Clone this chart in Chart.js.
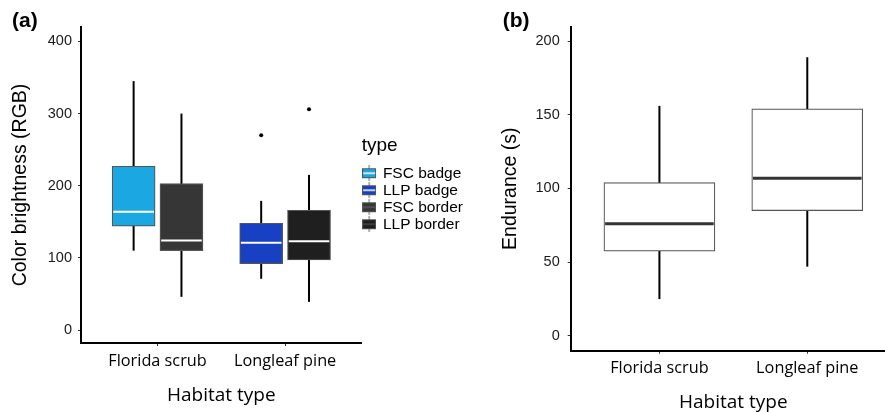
<!DOCTYPE html>
<html><head><meta charset="utf-8">
<script src="https://cdn.jsdelivr.net/npm/chart.js@4.4.1/dist/chart.umd.min.js"></script>
<style>
html,body{margin:0;padding:0;background:#fff;overflow:hidden;width:885px;height:412px;}
#wa{position:absolute;left:0;top:0;width:480px;height:412px;}
#wb{position:absolute;left:440px;top:0;width:470px;height:412px;}
</style></head><body>
<div id="wa"><canvas id="ca" width="480" height="412"></canvas></div>
<div id="wb"><canvas id="cb" width="470" height="412"></canvas></div>
<script>
// ---------- data ----------
const habitats = ['Florida scrub', 'Longleaf pine'];

// panel (a): colour brightness
const colorTypes = ['FSC badge', 'LLP badge', 'FSC border', 'LLP border'];
const colorTypeHabitat = ['Florida scrub', 'Longleaf pine', 'Florida scrub', 'Longleaf pine'];
const colorMin = [110, 71, 46, 39];
const colorQ1 = [144, 92, 110, 97];
const colorMedian = [164, 121, 124, 123];
const colorQ3 = [227, 148, 203, 166];
const colorMax = [345, 179, 300, 215];
const colorOutliers = [[], [270], [], [306]];
const colorTicks = [0, 100, 200, 300, 400];

// panel (b): endurance
const enduranceMin = [25, 47];
const enduranceQ1 = [57.5, 85];
const enduranceMedian = [76, 107];
const enduranceQ3 = [104, 154];
const enduranceMax = [156, 189];
const enduranceTicks = [0, 50, 100, 150, 200];

// ---------- styles ----------
const SANS = '"Liberation Sans", Arial, Helvetica, sans-serif';
const CAT = '"Open Sans", sans-serif';
const fillsA = ['#1aa7e2', '#1840c2', '#363636', '#1f1f1f'];
const keyMedian = ['#ffffff', '#ffffff', '#5a5a5a', '#4a4a4a'];
const DODGE = 0.1875;

function makeKey(fill, med) {
  const c = document.createElement('canvas');
  c.width = 14; c.height = 16;
  const g = c.getContext('2d');
  g.strokeStyle = '#666'; g.lineWidth = 1;
  g.beginPath(); g.moveTo(7, 0); g.lineTo(7, 16); g.stroke();
  g.fillStyle = fill; g.fillRect(0.5, 3.5, 13, 9);
  g.strokeStyle = '#555'; g.strokeRect(0.5, 3.5, 13, 9);
  g.strokeStyle = med; g.lineWidth = 1.5;
  g.beginPath(); g.moveTo(1, 8); g.lineTo(13, 8); g.stroke();
  return c;
}
const keys = colorTypes.map((t, i) => makeKey(fillsA[i], keyMedian[i]));

// whiskers + medians drawn through the chart's own scales
const boxExtras = {
  id: 'boxExtras',
  beforeDatasetsDraw(chart, args, o) {
    const y = chart.scales.y, ctx = chart.ctx;
    ctx.save();
    ctx.strokeStyle = o.whiskerColor; ctx.lineWidth = o.whiskerWidth;
    chart.data.datasets.forEach((ds, i) => {
      if (!ds.whiskerMin) return;
      chart.getDatasetMeta(i).data.forEach((el, j) => {
        ctx.beginPath();
        ctx.moveTo(el.x, y.getPixelForValue(ds.whiskerMin[j]));
        ctx.lineTo(el.x, y.getPixelForValue(ds.whiskerMax[j]));
        ctx.stroke();
      });
    });
    ctx.restore();
  },
  afterDatasetsDraw(chart, args, o) {
    const y = chart.scales.y, ctx = chart.ctx;
    ctx.save();
    ctx.strokeStyle = o.medianColor; ctx.lineWidth = o.medianWidth;
    chart.data.datasets.forEach((ds, i) => {
      if (!ds.medians) return;
      chart.getDatasetMeta(i).data.forEach((el, j) => {
        const py = y.getPixelForValue(ds.medians[j]);
        const bw = ds.borderWidth || 0;
        ctx.beginPath();
        ctx.moveTo(el.x - el.width / 2 + bw, py);
        ctx.lineTo(el.x + el.width / 2 - bw, py);
        ctx.stroke();
      });
    });
    ctx.restore();
  }
};

function gridOpts() {
  return { display: true, offset: false, drawOnChartArea: false, drawTicks: true, tickLength: 3, color: '#333', lineWidth: 1 };
}
function borderOpts() { return { display: true, color: '#000', width: 2 }; }

// ---------- panel (a) ----------
const catIndex = h => habitats.indexOf(h) + 1;
new Chart(document.getElementById('ca'), {
  type: 'bar',
  plugins: [boxExtras],
  data: {
    datasets: [
      ...colorTypes.map((t, i) => ({
        type: 'bar', label: t,
        data: [{ x: catIndex(colorTypeHabitat[i]) + (t.includes('badge') ? -DODGE : DODGE), y: [colorQ1[i], colorQ3[i]] }],
        backgroundColor: fillsA[i], borderColor: '#555', borderWidth: 1.2, borderSkipped: false,
        grouped: false, barThickness: 43,
        whiskerMin: [colorMin[i]], whiskerMax: [colorMax[i]], medians: [colorMedian[i]]
      })),
      {
        type: 'scatter', label: 'outliers',
        data: colorOutliers.flatMap((arr, i) => arr.map(v => ({ x: catIndex(colorTypeHabitat[i]) + (colorTypes[i].includes('badge') ? -DODGE : DODGE), y: v }))),
        pointRadius: 2, pointBackgroundColor: '#000', pointBorderWidth: 0
      }
    ]
  },
  options: {
    responsive: false, animation: false,
    layout: { padding: { left: 12, top: 0, right: 7, bottom: 0 } },
    plugins: {
      tooltip: { enabled: false },
      title: { display: true, text: '(a)', align: 'start', color: '#000', font: { family: SANS, size: 21, weight: 'bold' }, padding: { top: 9, bottom: -7.2 } },
      legend: {
        position: 'right', align: 'center', fullSize: false,
        title: { display: true, text: 'type', position: 'start', color: '#000', font: { family: SANS, size: 19 }, padding: { top: 0, bottom: 4.7 } },
        labels: {
          usePointStyle: true, boxWidth: 12, boxHeight: 14, padding: 1.5, color: '#000',
          font: { family: SANS, size: 15.5 },
          generateLabels: () => colorTypes.map((t, i) => ({ text: t, pointStyle: keys[i], datasetIndex: i, hidden: false, fillStyle: fillsA[i], strokeStyle: '#555', lineWidth: 0, fontColor: '#000' }))
        }
      },
      boxExtras: { whiskerColor: '#000', whiskerWidth: 2, medianColor: '#fff', medianWidth: 2 }
    },
    scales: {
      x: {
        type: 'linear', min: 0.4, max: 2.6, offset: false,
        afterBuildTicks: s => { s.ticks = habitats.map((h, i) => ({ value: i + 1 })); },
        afterFit: s => { s.height = 69; },
        ticks: { callback: v => habitats[v - 1], font: { family: CAT, size: 16.3 }, color: '#000', padding: 6, maxRotation: 0, autoSkip: false },
        grid: gridOpts(), border: borderOpts(),
        title: { display: true, text: 'Habitat type', color: '#000', font: { family: CAT, size: 19 }, padding: { top: 0, bottom: 4.6 } }
      },
      y: {
        type: 'linear', min: -18, max: 420,
        afterBuildTicks: s => { s.ticks = colorTicks.map(v => ({ value: v })); },
        afterFit: s => { s.width = 69; },
        ticks: { font: { family: SANS, size: 14.5 }, color: '#1a1a1a', padding: 6 },
        grid: gridOpts(), border: borderOpts(),
        title: { display: true, text: 'Color brightness (RGB)', color: '#000', font: { family: SANS, size: 19.5 }, padding: { top: -3.2, bottom: 0 } }
      }
    }
  }
});

// ---------- panel (b) ----------
new Chart(document.getElementById('cb'), {
  type: 'bar',
  plugins: [boxExtras],
  data: {
    datasets: [{
      label: 'Endurance',
      data: habitats.map((h, i) => ({ x: i + 1, y: [enduranceQ1[i], enduranceQ3[i]] })),
      backgroundColor: '#fff', borderColor: '#555', borderWidth: 1.2, borderSkipped: false,
      grouped: false, barThickness: 111,
      whiskerMin: enduranceMin, whiskerMax: enduranceMax, medians: enduranceMedian
    }]
  },
  options: {
    responsive: false, animation: false,
    layout: { padding: { left: 62.7, top: 0, right: 14, bottom: 0 } },
    plugins: {
      tooltip: { enabled: false },
      legend: { display: false },
      title: { display: true, text: '(b)', align: 'start', color: '#000', font: { family: SANS, size: 21, weight: 'bold' }, padding: { top: 9, bottom: -7.5 } },
      boxExtras: { whiskerColor: '#000', whiskerWidth: 2, medianColor: '#333', medianWidth: 3 }
    },
    scales: {
      x: {
        type: 'linear', min: 0.4, max: 2.6, offset: false,
        afterBuildTicks: s => { s.ticks = habitats.map((h, i) => ({ value: i + 1 })); },
        afterFit: s => { s.height = 61.3; },
        ticks: { callback: v => habitats[v - 1], font: { family: CAT, size: 16.3 }, color: '#000', padding: 5, maxRotation: 0, autoSkip: false },
        grid: gridOpts(), border: borderOpts(),
        title: { display: true, text: 'Habitat type', color: '#000', font: { family: CAT, size: 19 }, padding: { top: 0, bottom: -2 } }
      },
      y: {
        type: 'linear', min: -10, max: 209.7,
        afterBuildTicks: s => { s.ticks = enduranceTicks.map(v => ({ value: v })); },
        afterFit: s => { s.width = 68; },
        ticks: { font: { family: SANS, size: 14.5 }, color: '#1a1a1a', padding: 8 },
        grid: gridOpts(), border: borderOpts(),
        title: { display: true, text: 'Endurance (s)', color: '#000', font: { family: SANS, size: 19.5 }, padding: { top: -3.7, bottom: 0 } }
      }
    }
  }
});
</script>
</body></html>
